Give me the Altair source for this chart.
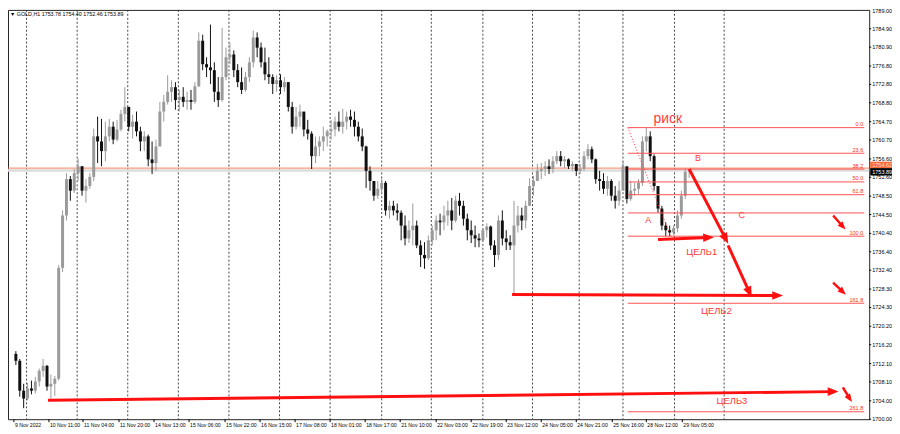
import altair as alt
import pandas as pd

# ---------------- data (GOLD, H1) ----------------
first_open = 1714.2
highs = [1714.8, 1713.1, 1707.7, 1707.9, 1708.4, 1709.2, 1711.0, 1713.1, 1711.8, 1709.7, 1709.4,
         1733.5, 1745.4, 1753.5, 1752.9, 1754.4, 1756.7, 1755.0, 1752.2, 1753.5, 1763.2,
         1765.8, 1765.3, 1764.7, 1765.3, 1764.7, 1765.1, 1767.3, 1772.2, 1767.9, 1766.2,
         1766.9, 1763.6, 1762.6, 1761.9, 1760.4, 1760.8, 1769.0, 1770.5, 1774.8, 1773.7,
         1773.3, 1771.6, 1772.2, 1771.2, 1771.6, 1773.3, 1784.1, 1783.6, 1778.7, 1785.8,
         1777.6, 1774.4, 1785.1, 1780.8, 1781.9, 1780.2, 1777.2, 1776.5, 1775.5, 1778.7,
         1784.5, 1784.1, 1781.9, 1780.8, 1778.7, 1775.0, 1774.8, 1775.0, 1774.4, 1773.3,
         1769.0, 1767.9, 1768.4, 1766.4, 1765.1, 1762.6, 1761.5, 1761.5, 1763.6, 1763.0,
         1765.1, 1765.8, 1766.9, 1767.5, 1766.9, 1767.3, 1766.9, 1764.7, 1763.2, 1759.5,
         1755.0, 1751.8, 1751.8, 1752.4, 1751.8, 1747.5, 1747.5, 1746.9, 1745.4, 1744.3,
         1743.2, 1746.9, 1743.2, 1738.9, 1738.5, 1740.0, 1742.1, 1744.3, 1744.7, 1746.4,
         1747.5, 1748.1, 1748.6, 1749.2, 1747.5, 1744.7, 1743.2, 1742.1, 1740.4, 1741.5,
         1742.6, 1742.1, 1738.9, 1744.3, 1745.4, 1741.1, 1740.0, 1747.5, 1746.4, 1746.0,
         1747.5, 1752.4, 1752.9, 1755.5, 1755.7, 1756.1, 1756.5, 1757.2, 1758.3, 1758.3,
         1757.2, 1756.7, 1756.1, 1755.5, 1755.5, 1758.3, 1759.8, 1759.3, 1756.7, 1754.0,
         1753.5, 1752.9, 1752.2, 1750.7, 1751.8, 1756.1, 1752.9, 1751.8, 1751.4, 1752.2,
         1761.5, 1763.4, 1762.6, 1757.6, 1750.7, 1746.4, 1742.8, 1742.1, 1742.1, 1745.4,
         1749.7, 1754.4, 1754.40]
lows = [1711.8, 1704.9, 1702.4, 1704.1, 1705.4, 1705.6, 1707.1, 1709.2, 1706.2, 1704.5, 1705.1,
        1708.4, 1732.0, 1743.2, 1747.5, 1749.2, 1751.8, 1748.6, 1747.1, 1750.1, 1751.8,
        1755.7, 1755.0, 1756.1, 1760.4, 1759.8, 1760.4, 1762.6, 1764.7, 1762.6, 1761.0,
        1761.5, 1758.3, 1758.3, 1755.0, 1753.3, 1754.0, 1760.4, 1764.7, 1768.4, 1769.0,
        1767.3, 1766.9, 1767.9, 1767.3, 1767.3, 1768.6, 1772.2, 1775.9, 1774.4, 1772.9,
        1769.0, 1767.9, 1769.0, 1773.7, 1777.2, 1774.4, 1772.2, 1770.7, 1771.2, 1773.3,
        1776.5, 1778.7, 1776.5, 1773.7, 1772.9, 1770.7, 1771.2, 1770.7, 1771.2, 1766.9,
        1762.1, 1763.0, 1763.6, 1761.5, 1760.8, 1754.4, 1755.7, 1757.2, 1758.3, 1759.3,
        1760.8, 1761.5, 1762.6, 1762.1, 1763.0, 1763.6, 1761.5, 1760.4, 1758.3, 1750.3,
        1749.7, 1747.5, 1747.9, 1749.2, 1744.3, 1743.6, 1744.3, 1743.2, 1738.9, 1737.8,
        1738.3, 1737.8, 1737.2, 1733.1, 1732.7, 1734.6, 1737.8, 1738.9, 1740.0, 1741.1,
        1742.1, 1741.1, 1742.8, 1744.3, 1742.1, 1738.9, 1738.3, 1737.4, 1737.4, 1738.5,
        1739.5, 1736.8, 1733.1, 1734.6, 1737.8, 1736.8, 1736.8, 1727.1, 1740.6, 1741.1,
        1741.5, 1746.4, 1748.6, 1751.8, 1752.2, 1752.9, 1753.3, 1753.5, 1755.5, 1755.0,
        1754.6, 1754.4, 1754.0, 1752.9, 1753.3, 1754.0, 1756.5, 1755.7, 1751.2, 1749.7,
        1749.0, 1748.6, 1747.5, 1745.8, 1746.4, 1750.7, 1746.9, 1747.5, 1748.6, 1749.0,
        1750.7, 1758.3, 1756.1, 1749.7, 1744.9, 1741.1, 1739.8, 1739.8, 1740.0, 1740.6,
        1743.6, 1747.9, 1752.46]
closes = [1712.7, 1706.2, 1704.5, 1706.7, 1706.2, 1708.2, 1710.5, 1711.6, 1707.1, 1707.7, 1708.8,
          1732.9, 1744.3, 1752.2, 1749.7, 1753.5, 1755.0, 1749.7, 1750.7, 1752.7, 1761.5,
          1760.4, 1758.3, 1761.5, 1763.6, 1760.8, 1763.0, 1766.4, 1767.9, 1763.6, 1764.7,
          1762.6, 1760.4, 1761.5, 1756.5, 1755.7, 1759.3, 1766.9, 1769.0, 1771.2, 1772.2,
          1769.4, 1770.1, 1769.0, 1769.4, 1769.0, 1772.4, 1782.3, 1777.2, 1776.5, 1775.9,
          1771.2, 1769.4, 1774.4, 1778.7, 1779.3, 1775.9, 1773.3, 1771.6, 1774.4, 1777.6,
          1783.0, 1780.8, 1777.6, 1775.0, 1774.4, 1772.9, 1773.7, 1772.2, 1773.3, 1767.9,
          1763.6, 1765.8, 1766.9, 1763.0, 1762.1, 1757.2, 1759.3, 1760.4, 1761.5, 1762.6,
          1763.0, 1764.7, 1763.6, 1764.7, 1765.8, 1765.1, 1763.6, 1761.5, 1759.3, 1754.0,
          1751.8, 1748.6, 1750.1, 1751.4, 1745.4, 1746.4, 1745.4, 1744.9, 1742.1, 1739.3,
          1741.1, 1742.1, 1737.8, 1735.7, 1735.0, 1738.9, 1741.1, 1743.2, 1742.8, 1744.3,
          1745.4, 1743.2, 1747.5, 1746.4, 1743.6, 1741.1, 1740.0, 1739.3, 1738.9, 1741.1,
          1741.9, 1737.8, 1735.7, 1743.2, 1739.3, 1738.5, 1737.8, 1742.1, 1744.3, 1743.2,
          1746.4, 1750.7, 1751.8, 1754.0, 1754.4, 1755.0, 1754.4, 1756.1, 1757.2, 1756.1,
          1756.5, 1755.0, 1755.5, 1754.0, 1754.4, 1757.2, 1758.7, 1756.5, 1752.2, 1751.8,
          1750.1, 1751.8, 1748.6, 1747.5, 1749.7, 1755.0, 1747.9, 1749.7, 1750.1, 1751.4,
          1760.4, 1761.5, 1757.2, 1750.7, 1745.8, 1742.1, 1741.1, 1740.6, 1741.5, 1744.3,
          1748.6, 1753.78, 1753.89]

price_ticks = [1700.00, 1704.00, 1708.10, 1712.10, 1716.20, 1720.20, 1724.30, 1728.30,
               1732.40, 1736.40, 1740.40, 1744.50, 1748.50, 1752.60, 1756.60, 1760.70,
               1764.70, 1768.80, 1772.80, 1776.80, 1780.90, 1784.90]
top_tick = 1789.00
time_labels = ["9 Nov 2022", "10 Nov 11:00", "11 Nov 04:00", "11 Nov 20:00", "14 Nov 13:00",
               "15 Nov 06:00", "15 Nov 22:00", "16 Nov 15:00", "17 Nov 08:00", "18 Nov 01:00",
               "18 Nov 17:00", "21 Nov 10:00", "22 Nov 03:00", "22 Nov 19:00", "23 Nov 12:00",
               "24 Nov 05:00", "24 Nov 21:00", "25 Nov 16:00", "28 Nov 12:00", "29 Nov 05:00"]
time_label_bars = [-0.5, 8.5, 17.25, 26.5, 35.5, 44.5, 53.75, 62.75, 71.75, 80.75, 89.75,
                   98.75, 108.0, 117.0, 126.0, 135.0, 144.0, 153.25, 162.0, 171.25]
grid_bars = [2.75, 15.75, 28.75, 41.75, 54.75, 67.75, 80.75, 94.0, 106.75, 120.0, 132.75,
             144.75, 156.0, 169.25, 182.0]

fib_start_bar = 157.25
fib_end_bar = 218.0
fib_top = 1763.4
fib_bottom = 1739.8
fib_levels = [0.0, 23.6, 38.2, 50.0, 61.8, 78.6, 100.0, 161.8, 261.8]
fib_texts = ["0.0", "23.6", "38.2", "50.0", "61.8", "", "100.0", "161.8", "261.8"]

level_line = 1754.6      # orange horizontal line
bid_line = 1754.1        # light grey line
last_price = "1753.89"

# arrows: start bar, start price, head bar, head price, head angle, line width, head size
arrow_x0 = [173.0, 165.0, 183.0, 127.5, 8.25, 210.0, 210.0, 212.5]
arrow_y0 = [1754.4, 1739.1, 1737.8, 1727.1, 1704.1, 1744.3, 1729.7, 1706.9]
arrow_x1 = [182.4, 178.0, 188.5, 195.75, 210.0, 212.5, 212.5, 214.25]
arrow_y1 = [1739.2, 1739.5, 1727.6, 1726.9, 1706.0, 1741.9, 1727.7, 1704.5]
arrow_ang = [152, 88, 155, 90, 89.4, 137, 133, 146]
arrow_w = [3, 3, 3, 3, 3, 2.5, 2.5, 2.5]
arrow_head = [120, 120, 120, 120, 120, 70, 70, 70]

note_texts = ["риск", "B", "A", "C", "ЦЕЛЬ1", "ЦЕЛЬ2", "ЦЕЛЬ3"]
note_bars = [167.5, 175.25, 162.5, 186.5, 176.25, 180.0, 184.0]
note_prices = [1765.3, 1756.7, 1743.4, 1744.3, 1736.3, 1723.6, 1703.9]
note_sizes = [14, 9, 9, 9, 9.5, 9.5, 9.5]

header = "▼ GOLD,H1  1753.78 1754.40 1752.46 1753.89"

# ---------------- tables ----------------
n = len(closes)
opens = [first_open] + closes[:-1]
candles = pd.DataFrame({"i": list(range(n)), "open": opens, "high": highs,
                        "low": lows, "close": closes})
candles["dir"] = ["up" if c >= o else "down" for o, c in zip(opens, closes)]

fib = pd.DataFrame({"lvl": fib_levels, "txt": fib_texts})
fib["price"] = fib_top - (fib_top - fib_bottom) * fib["lvl"] / 100.0
fib["x0"] = fib_start_bar
fib["x1"] = fib_end_bar
fib["xt"] = fib_end_bar - 0.25

arrows = pd.DataFrame({"x0": arrow_x0, "y0": arrow_y0, "x1": arrow_x1, "y1": arrow_y1,
                       "ang": arrow_ang, "w": arrow_w, "s": arrow_head})
notes = pd.DataFrame({"t": note_texts, "x": note_bars, "y": note_prices, "fs": note_sizes})
tlab = pd.DataFrame({"x": time_label_bars, "t": time_labels})
grid = pd.DataFrame({"x": grid_bars})
trend = pd.DataFrame({"x0": [fib_start_bar], "y0": [fib_top], "x1": [168.25], "y1": [fib_bottom]})
hlines = pd.DataFrame({"y": [bid_line, level_line], "c": ["#dcdcdc", "#f5845a"], "w": [2.5, 1]})
ylabs = pd.DataFrame({"p": price_ticks, "t": [f"{v:.2f}" for v in price_ticks]})
ytop = pd.DataFrame({"p": [top_tick], "t": [f"{top_tick:.2f}"]})

W, H = 869, 413
xs = alt.Scale(domain=[-0.75, 218.0], nice=False, zero=False)
ys = alt.Scale(domain=[1700, 1789], nice=False, zero=False)
col = alt.Scale(domain=["up", "down"], range=["#9a9a9a", "#101010"])
RED = "#ff1010"
FONT = "Liberation Sans"

grid_l = alt.Chart(grid).mark_rule(color="#444", strokeDash=[2, 2], strokeWidth=1).encode(
    x=alt.X("x:Q", scale=xs, axis=None))

hl = alt.Chart(hlines).mark_rule().encode(
    y=alt.Y("y:Q", scale=ys, axis=None),
    color=alt.Color("c:N", scale=None),
    strokeWidth=alt.StrokeWidth("w:Q", scale=None))

wicks = alt.Chart(candles).mark_rule(strokeWidth=1).encode(
    x=alt.X("i:Q", scale=xs, axis=None),
    y=alt.Y("low:Q", scale=ys, axis=None), y2="high:Q",
    color=alt.Color("dir:N", scale=col, legend=None))

bodies = alt.Chart(candles).mark_bar(size=3).encode(
    x=alt.X("i:Q", scale=xs, axis=None),
    y=alt.Y("open:Q", scale=ys, axis=None), y2="close:Q",
    color=alt.Color("dir:N", scale=col, legend=None))

fib_lines = alt.Chart(fib).mark_rule(color="#ff5050", strokeWidth=1).encode(
    x=alt.X("x0:Q", scale=xs, axis=None), x2="x1:Q",
    y=alt.Y("price:Q", scale=ys, axis=None))

fib_lab = alt.Chart(fib).mark_text(align="right", baseline="bottom", dy=-0.5, fontSize=5.6,
                                   font=FONT, color="#ff2a2a").encode(
    x=alt.X("xt:Q", scale=xs, axis=None),
    y=alt.Y("price:Q", scale=ys, axis=None), text="txt:N")

trend_l = alt.Chart(trend).mark_rule(color="#ff3030", strokeDash=[1, 2], strokeWidth=1).encode(
    x=alt.X("x0:Q", scale=xs, axis=None), x2="x1:Q",
    y=alt.Y("y0:Q", scale=ys, axis=None), y2="y1:Q")

shafts = alt.Chart(arrows).mark_rule(color=RED, strokeCap="butt").encode(
    x=alt.X("x0:Q", scale=xs, axis=None), x2="x1:Q",
    y=alt.Y("y0:Q", scale=ys, axis=None), y2="y1:Q",
    strokeWidth=alt.StrokeWidth("w:Q", scale=None))

heads = alt.Chart(arrows).mark_point(shape="M0,-1L0.8,1L-0.8,1Z", filled=True, color=RED,
                                     opacity=1, strokeWidth=0).encode(
    x=alt.X("x1:Q", scale=xs, axis=None),
    y=alt.Y("y1:Q", scale=ys, axis=None),
    angle=alt.Angle("ang:Q", scale=None),
    size=alt.Size("s:Q", scale=None))

notes_l = alt.Chart(notes).mark_text(font=FONT, color="#ff3a3a", align="center",
                                     baseline="middle").encode(
    x=alt.X("x:Q", scale=xs, axis=None),
    y=alt.Y("y:Q", scale=ys, axis=None),
    text="t:N", size=alt.Size("fs:Q", scale=None))

tlab_l = alt.Chart(tlab).mark_text(font=FONT, fontSize=5.2, align="left", baseline="middle",
                                   dx=1, color="#000").encode(
    x=alt.X("x:Q", scale=xs, axis=None), y=alt.value(H + 5.5), text="t:N")

tticks = alt.Chart(tlab).mark_rule(color="#000", strokeWidth=1).encode(
    x=alt.X("x:Q", scale=xs, axis=None), y=alt.value(H), y2=alt.value(H + 3))

# price scale on the right, drawn as ticks + text
yticks = alt.Chart(ylabs).mark_rule(color="#000", strokeWidth=1).encode(
    x=alt.value(W), x2=alt.value(W + 2), y=alt.Y("p:Q", scale=ys, axis=None))
ytext = alt.Chart(ylabs).mark_text(font=FONT, fontSize=5.6, align="left", baseline="middle",
                                   color="#000").encode(
    x=alt.value(W + 3), y=alt.Y("p:Q", scale=ys, axis=None), text="t:N")
ytop_t = alt.Chart(ytop).mark_text(font=FONT, fontSize=5.6, align="left", baseline="top",
                                   dy=-1, color="#000").encode(
    x=alt.value(W + 3), y=alt.Y("p:Q", scale=ys, axis=None), text="t:N")

hdr = alt.Chart(pd.DataFrame({"t": [header]})).mark_text(
    font=FONT, fontSize=5.4, align="left", baseline="middle", color="#000").encode(
    x=alt.value(2), y=alt.value(4), text="t:N")

boxes = pd.DataFrame({"y": [1756.0, 1754.6], "y2": [1754.6, 1753.0],
                      "c": ["#ff6a3a", "#000000"], "t": ["1754.62", last_price],
                      "tc": ["#ffd9cc", "#ffffff"], "ym": [1755.3, 1753.8]})
box_r = alt.Chart(boxes).mark_rect().encode(
    x=alt.value(W + 1), x2=alt.value(W + 23),
    y=alt.Y("y:Q", scale=ys, axis=None), y2="y2:Q",
    color=alt.Color("c:N", scale=None))
box_t = alt.Chart(boxes).mark_text(font=FONT, fontSize=5.6, align="left",
                                   baseline="middle").encode(
    x=alt.value(W + 3), y=alt.Y("ym:Q", scale=ys, axis=None), text="t:N",
    color=alt.Color("tc:N", scale=None))

chart = alt.layer(
    grid_l, hl, wicks, bodies, fib_lines, fib_lab, trend_l, shafts, heads,
    notes_l, tlab_l, tticks, yticks, ytext, ytop_t, hdr, box_r, box_t
).properties(
    width=W, height=H,
    padding={"left": 0, "top": 0, "right": 23, "bottom": 13},
    autosize=alt.AutoSizeParams(type="none"),
    background="white",
).configure_view(stroke="#222", strokeWidth=1)

chart.save("out.html", embed_options={"renderer": "svg", "actions": False})
